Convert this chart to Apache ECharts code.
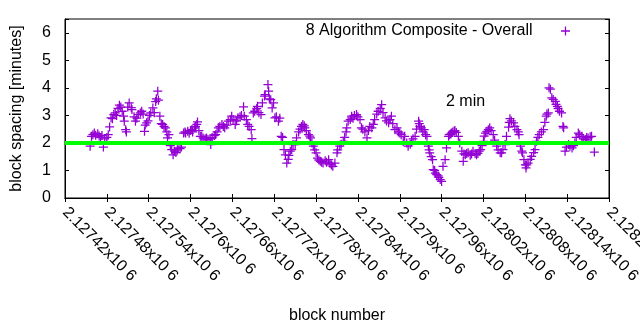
<!DOCTYPE html>
<html><head><meta charset="utf-8">
<script src="https://cdn.jsdelivr.net/npm/echarts@6/dist/echarts.min.js"></script>
<style>html,body{margin:0;padding:0;background:#fff}#c{width:640px;height:330px}</style>
</head><body><div id="c"></div>
<script>
const seriesName = '8 Algorithm Composite - Overall';
const blocks = [
2127456,2127458,2127460,2127462,2127464,2127467,2127469,2127471,2127473,2127475,
2127477,2127480,2127482,2127484,2127486,2127488,2127490,2127492,2127494,2127496,
2127498,2127500,2127502,2127504,2127505,2127507,2127508,2127510,2127512,2127515,
2127516,2127519,2127521,2127523,2127525,2127528,2127530,2127532,2127534,2127535,
2127537,2127539,2127541,2127543,2127546,2127548,2127550,2127551,2127553,2127554,
2127556,2127558,2127560,2127562,2127564,2127566,2127567,2127569,2127571,2127573,
2127575,2127577,2127579,2127581,2127582,2127585,2127587,2127590,2127592,2127593,
2127596,2127598,2127600,2127602,2127603,2127606,2127607,2127609,2127610,2127612,
2127614,2127616,2127618,2127621,2127623,2127625,2127628,2127629,2127631,2127634,
2127636,2127638,2127640,2127642,2127645,2127647,2127649,2127652,2127654,2127657,
2127659,2127661,2127664,2127666,2127668,2127671,2127673,2127676,2127677,2127680,
2127682,2127684,2127687,2127688,2127690,2127692,2127695,2127696,2127698,2127701,
2127703,2127706,2127707,2127711,2127712,2127713,2127715,2127717,2127719,2127721,
2127723,2127726,2127728,2127730,2127732,2127734,2127736,2127738,2127740,2127741,
2127743,2127745,2127747,2127750,2127752,2127755,2127757,2127759,2127761,2127763,
2127764,2127766,2127769,2127771,2127772,2127774,2127776,2127778,2127780,2127782,
2127784,2127786,2127788,2127790,2127793,2127795,2127798,2127800,2127802,2127804,
2127807,2127810,2127811,2127814,2127816,2127819,2127821,2127823,2127824,2127826,
2127829,2127831,2127833,2127835,2127838,2127840,2127843,2127845,2127847,2127850,
2127853,2127855,2127857,2127860,2127862,2127864,2127867,2127869,2127872,2127874,
2127876,2127879,2127881,2127884,2127886,2127888,2127890,2127893,2127896,2127898,
2127900,2127902,2127905,2127907,2127910,2127912,2127915,2127917,2127919,2127922,
2127924,2127927,2127928,2127929,2127931,2127933,2127935,2127937,2127939,2127941,
2127942,2127943,2127945,2127947,2127948,2127950,2127951,2127953,2127955,2127956,
2127958,2127960,2127962,2127965,2127967,2127970,2127971,2127973,2127974,2127976,
2127978,2127979,2127981,2127984,2127986,2127989,2127991,2127992,2127994,2127996,
2127998,2128001,2128003,2128005,2128008,2128010,2128012,2128014,2128016,2128018,
2128020,2128021,2128023,2128025,2128027,2128029,2128031,2128034,2128036,2128039,
2128041,2128044,2128046,2128048,2128051,2128053,2128056,2128057,2128058,2128060,
2128063,2128065,2128068,2128070,2128071,2128073,2128075,2128076,2128078,2128080,
2128081,2128082,2128084,2128087,2128089,2128092,2128094,2128096,2128098,2128100,
2128103,2128106,2128108,2128110,2128111,2128113,2128114,2128116,2128118,2128120,
2128123,2128124,2128126,2128127,2128129,2128132,2128134,2128135,2128137,2128139,
2128142,2128144,2128147,2128149,2128151,2128153,2128156,2128158,2128161,2128163,
2128166,2128168,2128170,2128173,2128175,2128179
];
const spacing = [
1.88,2.24,2.30,2.36,2.28,2.33,2.25,2.20,2.27,1.85,
2.15,2.20,2.30,2.58,2.91,2.88,3.03,3.09,3.00,3.25,
3.37,3.30,3.15,2.97,2.79,2.48,2.40,3.30,3.45,3.28,
3.21,2.95,2.79,2.90,3.03,3.09,3.15,3.05,2.42,2.65,
2.73,2.80,3.00,3.09,3.27,3.10,3.50,3.60,3.88,3.55,
2.97,2.70,2.67,2.60,2.55,2.40,2.18,2.30,1.90,1.76,
1.57,1.70,1.65,1.75,1.82,1.79,1.85,2.36,2.40,2.36,
2.42,2.35,2.45,2.48,2.40,2.55,2.60,2.67,2.76,2.45,
2.24,2.24,2.18,2.15,2.18,2.12,2.16,1.94,2.20,2.27,
2.30,2.40,2.55,2.60,2.67,2.60,2.55,2.65,2.79,2.85,
2.97,2.85,2.67,2.80,2.91,2.95,3.00,3.31,2.97,2.85,
2.67,2.60,2.48,2.16,3.09,3.15,3.25,3.33,3.10,3.03,
3.45,3.70,3.75,4.12,3.88,3.60,3.57,3.27,3.45,2.91,
2.95,2.79,2.90,2.24,2.20,1.76,1.57,1.27,1.40,1.55,
1.70,1.76,1.94,1.94,2.18,2.40,2.50,2.60,2.67,2.62,
2.55,2.45,2.30,2.25,2.18,2.00,1.88,1.75,1.64,1.45,
1.38,1.33,1.30,1.27,1.35,1.30,1.39,1.25,1.20,1.15,
1.27,1.64,1.75,1.88,1.95,2.06,2.20,2.40,2.55,2.79,
2.85,2.97,2.90,3.00,3.03,2.95,2.85,2.55,2.50,2.40,
2.18,2.45,2.60,2.55,2.67,2.85,3.05,3.15,3.25,3.39,
3.10,2.91,2.80,2.73,2.85,2.97,2.70,2.48,2.55,2.40,
2.36,2.30,2.05,2.24,2.00,1.88,1.95,2.05,2.15,2.24,
2.50,2.79,2.70,2.60,2.55,2.40,2.48,2.30,2.24,1.88,
1.75,1.64,1.50,1.39,1.03,1.00,0.90,0.85,0.80,0.75,
0.67,0.60,1.15,1.39,1.82,2.24,2.30,2.32,2.36,2.40,
2.42,2.45,2.38,2.24,2.00,1.70,1.33,1.60,1.57,1.62,
1.64,1.55,1.60,1.70,1.62,1.57,1.62,1.70,1.76,1.90,
2.06,2.25,2.36,2.42,2.48,2.55,2.45,2.30,2.10,1.88,
1.75,1.64,1.64,1.76,1.94,2.24,2.57,2.75,2.88,2.80,
2.73,2.60,2.48,2.40,2.30,1.88,1.70,1.64,1.39,1.20,
1.09,1.20,1.27,1.40,1.51,1.65,1.76,2.06,2.20,2.30,
2.40,2.48,2.75,2.97,3.05,3.09,4.00,3.95,3.64,3.58,
3.51,3.40,3.33,3.25,3.15,3.09,2.60,2.55,1.70,1.85,
1.94,1.88,1.82,1.90,2.00,2.20,2.36,2.30,2.24,2.15,
2.12,2.20,2.18,2.22,2.24,1.67
];
const xTickLabels = ['2.12742x10 6','2.12748x10 6','2.12754x10 6','2.1276x10 6','2.12766x10 6','2.12772x10 6','2.12778x10 6','2.12784x10 6','2.1279x10 6','2.12796x10 6','2.12802x10 6','2.12808x10 6','2.12814x10 6','2.1282x10 6'];
const xMin = 2127420, xMax = 2128200, xStep = 60;
const yTickLabels = ['0','1','2','3','4','5','6'];
const yMin = 0, yMax = 6.5, yStep = 1;
const targetMinutes = 2;
const targetLabel = '2 min';

const FONT = 'Liberation Sans, Arial, sans-serif';
const PURPLE = '#9400d3';
const CROSS = 'path://M0,4.3H10V5.7H0Z M4.3,0H5.7V10H4.3Z';

const chart = echarts.init(document.getElementById('c'), null, {renderer: 'canvas'});
const axisLine = {show: true, lineStyle: {color: '#000', width: 1}};
const tick = {show: true, inside: true, length: 4, lineStyle: {color: '#000', width: 1}};
const xLabelFmt = v => { const i = Math.round((v - xMin) / xStep); return Math.abs(v - (xMin + i * xStep)) < 1e-6 ? (xTickLabels[i] || '') : ''; };
const yLabelFmt = v => { const i = Math.round((v - yMin) / yStep); return Math.abs(v - (yMin + i * yStep)) < 1e-6 ? (yTickLabels[i] || '') : ''; };

chart.setOption({
  animation: false,
  backgroundColor: '#fff',
  grid: {left: 65, right: 31, top: 19, bottom: 132, show: true, borderColor: '#000', borderWidth: 1, backgroundColor: 'transparent', containLabel: false, outerBoundsMode: 'none'},
  legend: {
    data: [seriesName], right: 70, top: 23, padding: 0, align: 'right',
    itemWidth: 56, itemHeight: 9, symbolKeepAspect: true, selectedMode: false,
    textStyle: {fontSize: 16, fontFamily: FONT, color: '#000'}
  },
  xAxis: [
    {type: 'value', position: 'bottom', min: xMin, max: xMax, interval: xStep,
     axisLine, axisTick: tick, splitLine: {show: false},
     axisLabel: {rotate: -45, margin: 12, fontSize: 16, fontFamily: FONT, color: '#000', formatter: xLabelFmt, showMinLabel: true, showMaxLabel: true, hideOverlap: false},
     name: 'block number', nameLocation: 'middle', nameGap: 110,
     nameTextStyle: {fontSize: 16, fontFamily: FONT, color: '#000'}},
    {type: 'value', position: 'top', min: xMin, max: xMax, interval: xStep,
     axisLine, axisTick: tick, splitLine: {show: false}, axisLabel: {show: false}}
  ],
  yAxis: [
    {type: 'value', position: 'left', min: yMin, max: yMax, interval: yStep,
     axisLine, axisTick: tick, splitLine: {show: false},
     axisLabel: {margin: 14, fontSize: 16, fontFamily: FONT, color: '#000', formatter: yLabelFmt},
     name: 'block spacing [minutes]', nameLocation: 'middle', nameGap: 40, nameRotate: 90,
     nameTextStyle: {fontSize: 16, fontFamily: FONT, color: '#000'}},
    {type: 'value', position: 'right', min: yMin, max: yMax, interval: yStep,
     axisLine, axisTick: tick, splitLine: {show: false}, axisLabel: {show: false}}
  ],
  series: [
    {name: seriesName, type: 'scatter', xAxisIndex: 0, yAxisIndex: 0,
     data: blocks.map((b, i) => [b, spacing[i]]),
     symbol: CROSS, symbolSize: 9, itemStyle: {color: PURPLE, opacity: 1}, z: 2},
    {name: targetLabel, type: 'line', xAxisIndex: 0, yAxisIndex: 0,
     data: [[xMin, targetMinutes], [xMax, targetMinutes]],
     symbol: 'none', lineStyle: {color: '#00ff00', width: 4}, z: 3, silent: true}
  ],
  graphic: [
    {type: 'text', left: 446, top: 94, style: {text: targetLabel, fontSize: 16, fontFamily: FONT, fill: '#000'}}
  ]
});
</script></body></html>
